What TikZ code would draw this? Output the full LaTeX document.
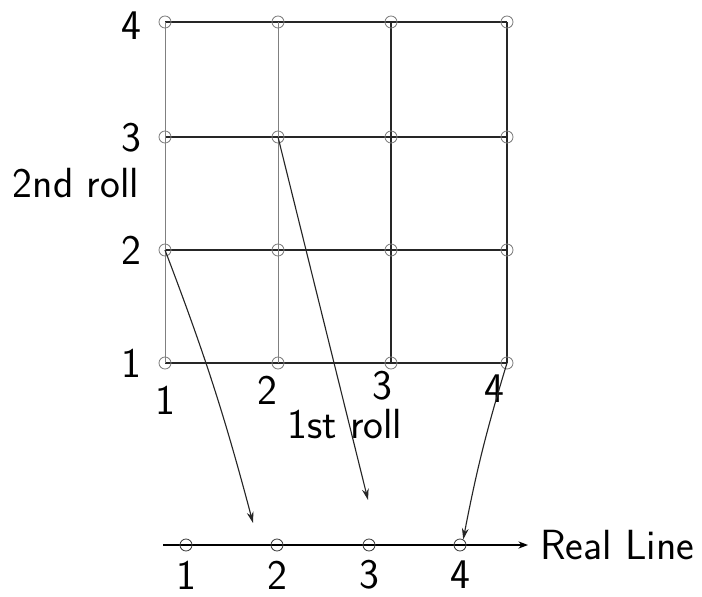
\documentclass[tikz,border=0pt]{standalone}
\usetikzlibrary{arrows.meta, positioning}

\begin{document}
\begin{tikzpicture}[
    x=0.025cm, y=-0.025cm,
    dot/.style={circle, draw=gray, line width=0.6pt, inner sep=0pt, minimum size=0.3cm},
    lbl/.style={font=\sffamily\fontsize{30}{36}\selectfont, inner sep=0pt},
    hline/.style={draw=black!85, line width=0.8pt},
    vline/.style={draw=gray, line width=0.6pt},
    map/.style={draw=black!85, line width=0.8pt, -{Stealth[length=2.8mm, width=1.7mm]}}
]
\useasboundingbox (0,0) rectangle (702,597);

% grid of outcomes
\foreach \i/\x in {1/165,2/278,3/391,4/507}
  \foreach \j/\y in {1/363,2/250,3/137,4/22}
    \coordinate (c-\i-\j) at (\x,\y);

\foreach \j in {1,...,4}
  \draw[hline] (c-1-\j) -- (c-4-\j);
\draw[vline] (c-1-1) -- (c-1-4);
\draw[vline] (c-2-1) -- (c-2-4);
\draw[hline] (c-3-1) -- (c-3-4);
\draw[hline] (c-4-1) -- (c-4-4);

\foreach \i in {1,...,4}
  \foreach \j in {1,...,4}
    \node[dot] (p-\i-\j) at (c-\i-\j) {};

% axis labels
\node[lbl] (y4) at (131,26) {4};
\node[lbl] (y3) at (131,138) {3};
\node[lbl] (y2) at (131,250) {2};
\node[lbl] (y1) at (131,363) {1};
\node[lbl] (ytitle) at (76,183) {2nd roll};

\node[lbl] (x1) at (165,400) {1};
\node[lbl] (x2) at (267,390) {2};
\node[lbl] (x3) at (382,386) {3};
\node[lbl] (x4) at (494,389) {4};
\node[lbl] (xtitle) at (345,424) {1st roll};

% real line
\coordinate (rl-start) at (163,545);
\node[lbl, anchor=west] (rl) at (540,545) {Real Line};
\draw[line width=0.8pt, -{Stealth[length=2.4mm, width=1.8mm]}] (rl-start) -- ([xshift=-0.3cm]rl.west);

\foreach \k/\x in {1/186,2/277,3/369,4/460} {
  \node[dot, draw=black!75] (r-\k) at (\x,545) {};
  \node[lbl] (rn-\k) at (\x,575) {\k};
}

% mappings
\coordinate (a1) at (253,523);
\coordinate (a2) at (368,500);
\draw[map] (p-1-2.center) to[bend left=3] (a1);
\draw[map] (p-2-3.center) -- (a2);
\draw[map] (p-4-1.center) to[bend right=3] (r-4.60);
\end{tikzpicture}
\end{document}
